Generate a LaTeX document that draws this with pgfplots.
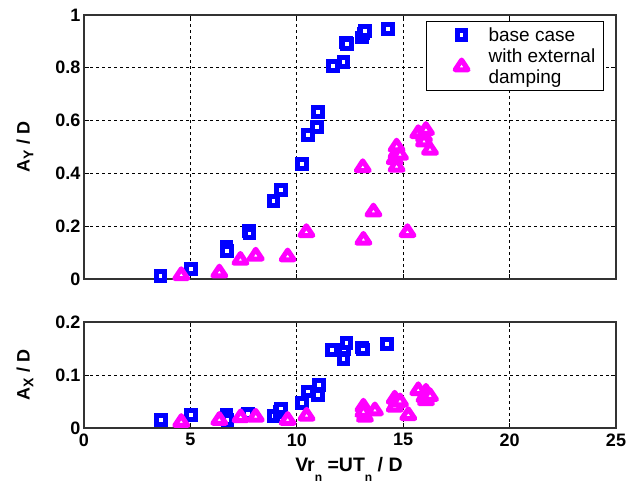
\documentclass[border=0pt]{standalone}
\usepackage{pgfplots}
\usepackage{pgfplotstable}
\pgfplotsset{compat=1.18}
\usepackage{fontspec}
\setmainfont{Liberation Sans}
\definecolor{mblue}{RGB}{0,0,255}
\definecolor{mmag}{RGB}{255,0,255}

\pgfplotstableread{
x y
3.60 0.011
5.03 0.037
6.70 0.120
6.72 0.105
7.75 0.182
7.78 0.172
8.91 0.295
9.27 0.337
10.25 0.435
10.53 0.545
10.95 0.575
11.00 0.632
11.69 0.808
12.20 0.822
12.30 0.896
12.35 0.890
13.05 0.915
13.14 0.930
13.20 0.940
14.27 0.947
}\topbase

\pgfplotstableread{
x y
4.57 0.014
6.36 0.024
7.35 0.072
8.07 0.088
9.57 0.085
10.45 0.177
13.10 0.423
13.13 0.148
13.60 0.255
14.60 0.453
14.69 0.425
14.69 0.476
14.69 0.501
14.85 0.470
15.20 0.177
15.71 0.552
15.98 0.539
15.98 0.520
16.07 0.564
16.26 0.489
}\topdamp

\pgfplotstableread{
x y
3.62 0.015
5.04 0.025
6.70 0.025
6.75 0.015
7.72 0.026
8.91 0.023
9.20 0.030
9.27 0.037
10.25 0.047
10.54 0.069
10.98 0.062
11.03 0.081
11.67 0.147
12.19 0.130
12.22 0.148
12.33 0.160
13.05 0.152
13.10 0.148
14.25 0.159
}\botbase

\pgfplotstableread{
x y
4.57 0.011
6.36 0.015
7.36 0.020
8.07 0.021
9.57 0.015
10.46 0.023
13.13 0.040
13.20 0.021
13.13 0.030
13.67 0.033
14.60 0.055
14.69 0.047
14.60 0.040
14.85 0.050
15.24 0.024
15.71 0.071
16.07 0.068
16.00 0.058
16.07 0.052
16.26 0.060
}\botdamp

\begin{document}
\begin{tikzpicture}
\useasboundingbox (0pt,0pt) rectangle (636pt,483pt);
\pgfplotsset{
  every axis/.append style={
    scale only axis, width=532pt, xmin=0, xmax=25, xtick={0,5,10,15,20,25},
    grid=major,
    major grid style={black, line width=0.8pt, dash pattern=on 3pt off 3pt},
    axis line style={black!80, line width=1.2pt},
    tick style={black, line width=0.8pt},
    major tick length=5pt, tick align=inside,
    /pgf/number format/assume math mode=true,
    tick label style={font=\fontsize{18}{20}\selectfont\bfseries},
    label style={font=\fontsize{18}{20}\selectfont\bfseries},
    clip=false,
  },
  sq/.style={only marks, mark=square*, mark size=4.35pt,
    mark options={draw=mblue, fill=white, line width=5pt}},
  tri/.style={only marks, mark=triangle*, mark size=6.5pt,
    mark options={draw=mmag, fill=white, line width=5pt, line join=round, xscale=1.15}},
}
\begin{axis}[
  at={(84pt,204pt)}, anchor=south west, height=264pt,
  ymin=0, ymax=1, ytick={0,0.2,0.4,0.6,0.8,1},
  xticklabels={},
  ylabel={A\raisebox{-0.4ex}{\fontsize{14}{14}\selectfont Y} / D},
  ylabel style={at={(axis description cs:-0.111,0.5)}, anchor=center},
  legend style={at={(axis description cs:0.977,0.977)}, anchor=north east,
    draw=black, line width=1pt, fill=white,
    font=\fontsize{19}{21.3}\selectfont,
    nodes={align=left, inner sep=1pt},
    inner xsep=7pt, inner ysep=5pt, row sep=3.4pt},
  legend cell align=left,
  legend image code/.code={\path[draw=none] (0pt,0pt) -- (54pt,0pt); \draw[#1] plot coordinates {(28pt,0pt)};},
]
\addplot[sq] table {\topbase};
\addlegendentry{base case}
\addplot[tri] table {\topdamp};
\addlegendentry{with external\\damping}
\end{axis}
\begin{axis}[
  at={(84pt,55pt)}, anchor=south west, height=106pt,
  ymin=0, ymax=0.2, ytick={0,0.1,0.2},
  xticklabel style={yshift=-2pt},
  ylabel={A\raisebox{-0.4ex}{\fontsize{14}{14}\selectfont X} / D},
  ylabel style={at={(axis description cs:-0.111,0.5)}, anchor=center},
  xlabel={\fontsize{19.5}{20}\selectfont Vr\raisebox{-1.0ex}{\fontsize{12}{12}\selectfont n} =UT\raisebox{-1.0ex}{\fontsize{12}{12}\selectfont n} / D},
  xlabel style={at={(axis description cs:0.498,-0.412)}, anchor=base},
]
\addplot[sq] table {\botbase};
\addplot[tri] table {\botdamp};
\end{axis}
\end{tikzpicture}
\end{document}
